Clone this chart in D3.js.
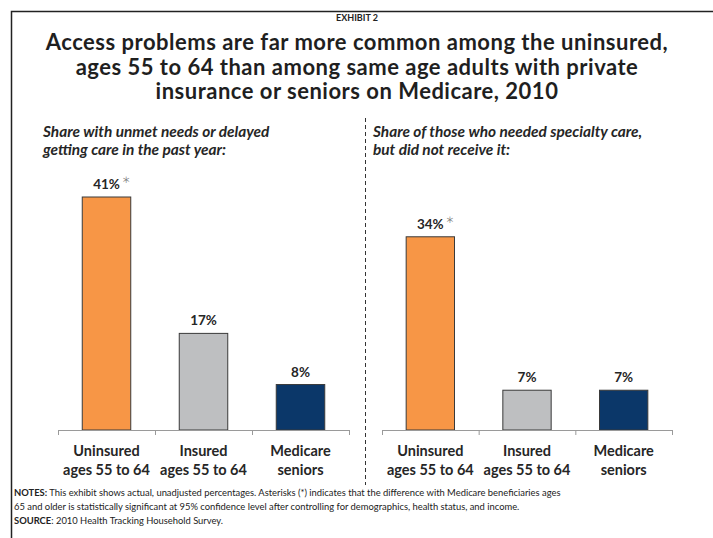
<!DOCTYPE html>
<html>
<head>
<meta charset="utf-8">
<script src="https://cdn.jsdelivr.net/npm/d3@7"></script>
<style>
  html, body { margin: 0; padding: 0; background: #fff; }
  svg { display: block; font-family: Lato, "Open Sans", sans-serif; }
</style>
</head>
<body>
<svg id="chart" width="713" height="538"></svg>
<script>
// Categories shared by both panels (two lines each)
const categories = ["Uninsured ages 55 to 64", "Insured ages 55 to 64", "Medicare seniors"];
const categoryLines = [["Uninsured", "ages 55 to 64"], ["Insured", "ages 55 to 64"], ["Medicare", "seniors"]];

// Percent values per panel
const unmetNeeds = [41, 17, 8];
const specialtyCare = [34, 7, 7];

// Which bars carry the significance asterisk
const significant = [true, false, false];

const panelTitles = [
  ["Share with unmet needs or delayed", "getting care in the past year:"],
  ["Share of those who needed specialty care,", "but did not receive it:"]
];

const titleLines = [
  "Access problems are far more common among the uninsured,",
  "ages 55 to 64 than among same age adults with private",
  "insurance or seniors on Medicare, 2010"
];

const noteLines = [
  [["NOTES:", true], [" This exhibit shows actual, unadjusted percentages.  Asterisks (*) indicates that the difference with Medicare beneficiaries ages", false]],
  [["65 and older is statistically significant at 95% confidence level after controlling for demographics, health status, and income.", false]],
  [["SOURCE", true], [": 2010 Health Tracking Household Survey.", false]]
];

const colors = ["#F79646", "#BEBFC1", "#0B3769"];

const svg = d3.select("#chart");

// Frame
svg.append("rect")
  .attr("x", 11.5).attr("y", 11.5)
  .attr("width", 760).attr("height", 600)
  .attr("fill", "none").attr("stroke", "#222").attr("stroke-width", 1.5);

// Header
svg.append("text")
  .attr("x", 357).attr("y", 21)
  .attr("text-anchor", "middle")
  .attr("font-size", 9).attr("font-weight", 700).attr("fill", "#222")
  .text("EXHIBIT 2");

svg.append("g").selectAll("text")
  .data(titleLines).join("text")
  .attr("x", 357).attr("y", (d, i) => 50 + i * 24.5)
  .attr("text-anchor", "middle")
  .attr("font-size", 22).attr("font-weight", 700).attr("fill", "#1f1f1f")
  .attr("letter-spacing", 0.5)
  .text(d => d);

// Divider between panels
svg.append("line")
  .attr("x1", 365.5).attr("x2", 365.5)
  .attr("y1", 118).attr("y2", 485)
  .attr("stroke", "#333").attr("stroke-width", 1)
  .attr("stroke-dasharray", "4,3");

// Shared value scale
const baseline = 430;
const y = d3.scaleLinear().domain([0, 41]).range([baseline, 197]);

const panels = [
  { values: unmetNeeds, range: [58, 349], titleX: 43 },
  { values: specialtyCare, range: [382, 672], titleX: 373 }
];

panels.forEach((p, pi) => {
  const g = svg.append("g");
  const x = d3.scaleBand().domain(categories).range(p.range)
    .paddingInner(0.5).paddingOuter(0.25);

  // panel subtitle
  g.selectAll("text.sub")
    .data(panelTitles[pi]).join("text")
    .attr("class", "sub")
    .attr("x", p.titleX).attr("y", (d, i) => 137 + i * 18)
    .attr("font-size", 15.4).attr("font-weight", 700).attr("font-style", "italic")
    .attr("fill", "#262626")
    .text(d => d);

  // bars
  g.selectAll("rect.bar")
    .data(p.values).join("rect")
    .attr("class", "bar")
    .attr("x", (d, i) => x(categories[i]))
    .attr("y", d => y(d))
    .attr("width", x.bandwidth())
    .attr("height", d => y(0) - y(d))
    .attr("fill", (d, i) => colors[i])
    .attr("stroke", "#3a3a3a").attr("stroke-width", 1);

  // value labels
  g.selectAll("text.val")
    .data(p.values).join("text")
    .attr("class", "val")
    .attr("x", (d, i) => x(categories[i]) + x.bandwidth() / 2)
    .attr("y", d => y(d) - 8)
    .attr("text-anchor", "middle")
    .attr("font-size", 13.5).attr("font-weight", 700).attr("fill", "#262626")
    .text(d => d + "%");

  // significance marks
  g.selectAll("text.ast")
    .data(p.values.map((v, i) => ({ v, i })).filter(d => significant[d.i]))
    .join("text")
    .attr("class", "ast")
    .attr("x", d => x(categories[d.i]) + x.bandwidth() / 2 + 15)
    .attr("y", d => y(d.v) - 4)
    .attr("font-size", 22).attr("font-weight", 300).attr("fill", "#777")
    .text("*");

  // axis baseline with ticks at band boundaries
  const step = x.step();
  const left = p.range[0];
  g.append("line")
    .attr("x1", left).attr("x2", p.range[1])
    .attr("y1", baseline + 0.5).attr("y2", baseline + 0.5)
    .attr("stroke", "#9a9a9a").attr("stroke-width", 1);
  g.selectAll("line.tick")
    .data(d3.range(categories.length + 1)).join("line")
    .attr("class", "tick")
    .attr("x1", i => left + i * step + 0.5).attr("x2", i => left + i * step + 0.5)
    .attr("y1", baseline).attr("y2", baseline + 5)
    .attr("stroke", "#9a9a9a").attr("stroke-width", 1);

  // category labels
  categoryLines.forEach((lines, i) => {
    g.append("text")
      .attr("x", x(categories[i]) + x.bandwidth() / 2)
      .attr("text-anchor", "middle")
      .attr("font-size", 14.5).attr("font-weight", 700).attr("fill", "#262626")
      .selectAll("tspan").data(lines).join("tspan")
      .attr("x", x(categories[i]) + x.bandwidth() / 2)
      .attr("y", (d, j) => 456 + j * 19)
      .text(d => d);
  });
});

// Notes and source
const notes = svg.append("g");
noteLines.forEach((parts, i) => {
  const t = notes.append("text")
    .attr("x", 14).attr("y", 496 + i * 14)
    .attr("font-size", 9.4).attr("fill", "#222");
  parts.forEach(([str, bold]) => {
    t.append("tspan").attr("font-weight", bold ? 700 : 400).text(str);
  });
});
</script>
</body>
</html>
